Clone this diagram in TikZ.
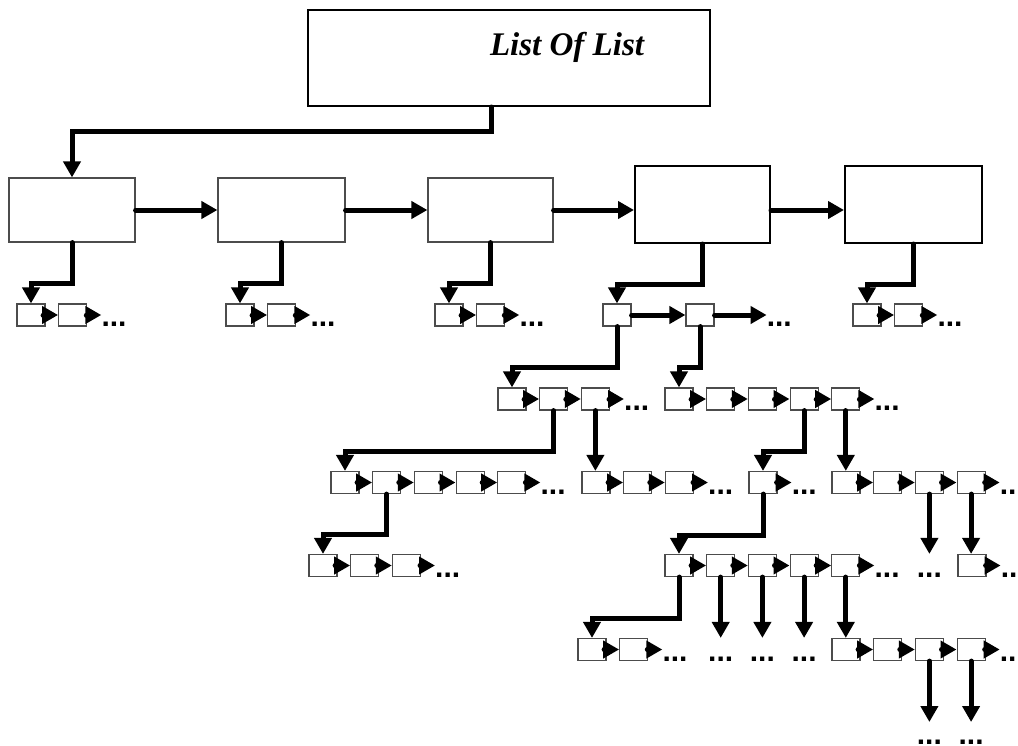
\documentclass[tikz,border=0pt]{standalone}
\usepackage{fontspec}
\setmainfont{Liberation Serif}
\setsansfont{Liberation Sans}
\usetikzlibrary{arrows.meta,positioning,calc}

\begin{document}
\begin{tikzpicture}[x=1pt, y=-1pt,
    frame/.style={draw, line width=2pt, inner sep=0pt},
    listbox/.style={draw=black!70, line width=1.2pt, minimum height=64pt, inner sep=0pt},
    headbox/.style={draw, line width=2pt, minimum height=77pt, inner sep=0pt},
    cell/.style={draw=black!70, line width=1.2pt, minimum width=28pt, minimum height=22pt, inner sep=0pt, fill=white},
    more/.style={font=\sffamily\bfseries\fontsize{30}{30}\selectfont, inner sep=0pt},
    arr/.style={-{Triangle[length=16pt, width=17pt]}, line width=5pt, line cap=round}
]
\useasboundingbox (0,0) rectangle (1018,745);

\node[frame, minimum width=402pt, minimum height=96pt] (top) at (509,58) {};
\node[font=\bfseries\itshape\fontsize{33}{33}\selectfont, anchor=base, inner sep=0pt] (title) at (567,55) {List Of List};

\node[listbox, minimum width=126pt] (list1) at (72,210) {};
\node[listbox, minimum width=127pt] (list2) at (281.5,210) {};
\node[listbox, minimum width=125pt] (list3) at (490.5,210) {};
\node[headbox, minimum width=135pt] (list4) at (702.5,204.5) {};
\node[headbox, minimum width=137pt] (list5) at (913.5,204.5) {};

\draw[arr] ([xshift=-18pt]top.south) -- ++(0,24) -| (list1.north);
\draw[arr] (list1) -- (list2);
\draw[arr] (list2) -- (list3);
\draw[arr] (list3.east) -- (list3.east -| list4.west);
\draw[arr] (list4.east |- list3.east) -- (list5.west |- list3.east);

\foreach \n/\x/\y/\k in {A/31/315/2, B/240/315/2, C/449/315/2, E/867/315/2,
    F/512/399/3, G/679/399/5, H/345/482.5/5, I/596/482.5/3, J/763/482.5/1, K/846/482.5/4,
    L/323/565.5/3, M/679/565.5/5, N/972/565.5/1, O/592/649.5/2, P/846/649.5/4} {
  \foreach \i in {1,...,\k} {
    \node[cell] (\n\i) at ({\x+(\i-1)*41.7},\y) {};
    \ifnum\i>1
      \pgfmathtruncatemacro\h{\i-1}
      \draw[arr] (\n\h.east) -- (\n\i.west);
    \fi
  }
  \node[more, anchor=base west] (\n-more) at ([xshift=14pt]\n\k.south east) {...};
  \draw[arr] (\n\k.east) -- (\n\k.east -| \n-more.west);
}

\node[cell] (D1) at (617,315) {};
\node[cell] (D2) at (700,315) {};
\draw[arr] (D1) -- (D2);
\node[more, anchor=base west] (D-more) at ([xshift=52pt]D2.south east) {...};
\draw[arr] (D2.east) -- (D2.east -| D-more.west);

\draw[arr] (list1.south) -- ++(0,41) -| (A1.north);
\draw[arr] (list2.south) -- ++(0,41) -| (B1.north);
\draw[arr] (list3.south) -- ++(0,41) -| (C1.north);
\draw[arr] (list4.south) -- ++(0,40) -| (D1.north);
\draw[arr] (list5.south) -- ++(0,40) -| (E1.north);
\draw[arr] (D1.south) -- ++(0,41) -| (F1.north);
\draw[arr] (D2.south) -- ++(0,41) -| (G1.north);
\draw[arr] (F2.south) -- ++(0,41) -| (H1.north);
\draw[arr] (F3.south) -- (F3.south |- I1.north);
\draw[arr] (G4.south) -- ++(0,41) -| (J1.north);
\draw[arr] (G5.south) -- (G5.south |- K1.north);
\draw[arr] (H2.south) -- ++(0,40) -| (L1.north);
\draw[arr] (J1.south) -- ++(0,41) -| (M1.north);
\draw[arr] (K4.south) -- (K4.south |- N1.north);
\draw[arr] (M1.south) -- ++(0,41) -| (O1.north);
\draw[arr] (M5.south) -- (M5.south |- P1.north);

\draw[arr] (K3.south) -- (K3.south |- N1.north);
\node[more, anchor=base] (K-more) at (K3.south |- N1.south) {...};
\foreach \c in {M2,M3,M4} {
  \draw[arr] (\c.south) -- (\c.south |- O1.north);
  \node[more, anchor=base] (\c-more) at (\c.south |- O1.south) {...};
}
\coordinate (end6) at (0,722);
\coordinate (base6) at (0,744);
\foreach \c in {P3,P4} {
  \draw[arr] (\c.south) -- (\c.south |- end6);
  \node[more, anchor=base] (\c-more) at (\c.south |- base6) {...};
}
\end{tikzpicture}
\end{document}
